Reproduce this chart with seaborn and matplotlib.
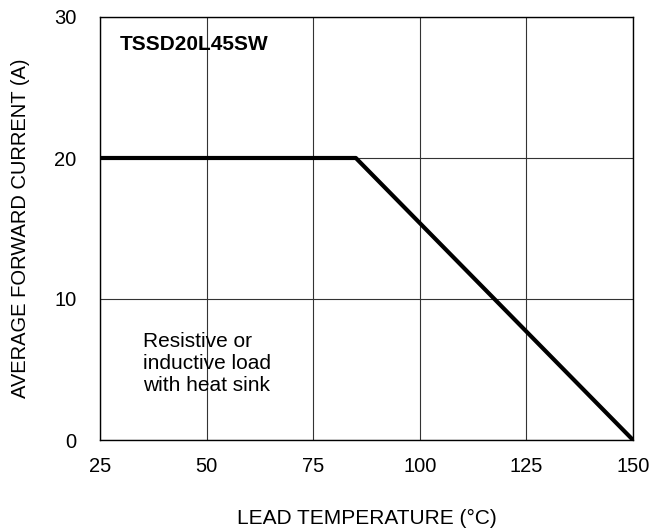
import matplotlib
matplotlib.use("Agg")
import matplotlib.pyplot as plt
import seaborn as sns
import pandas as pd

temperature = [25, 85, 150]
current = [20, 20, 0]
x_ticks = [25, 50, 75, 100, 125, 150]
y_ticks = [0, 10, 20, 30]

sns.set_theme(style="white")
plt.rcParams['font.family'] = ['Liberation Sans', 'DejaVu Sans']
plt.rcParams['text.color'] = 'black'
plt.rcParams['axes.labelcolor'] = 'black'

df = pd.DataFrame({"temp": temperature, "cur": current})

fig = plt.figure(figsize=(6.5, 5.31), dpi=100)
ax = fig.add_axes([100/650, 1-440/531, 533/650, 423/531])
sns.lineplot(data=df, x="temp", y="cur", ax=ax, color="black", linewidth=3.0,
             solid_capstyle="round")
ax.set_xlim(25, 150)
ax.set_ylim(0, 30)
ax.set_xticks(x_ticks)
ax.set_yticks(y_ticks)
ax.grid(True, color="#333333", linewidth=0.8)
for s in ax.spines.values():
    s.set_color("black")
    s.set_linewidth(1.0)
ax.tick_params(axis="both", length=0, labelsize=14.5, colors="black")
ax.tick_params(axis="x", pad=12)
ax.tick_params(axis="y", pad=17)
ax.set_xlabel("LEAD TEMPERATURE (°C)", fontsize=15, labelpad=24)
ax.set_ylabel("AVERAGE FORWARD CURRENT (A)", fontsize=14.5, labelpad=17)
ax.text(29.7, 28.08, "TSSD20L45SW", fontsize=15, fontweight="bold", va="center", ha="left")
ax.text(35.2, 5.4, "Resistive or\ninductive load\nwith heat sink", fontsize=15,
        ha="left", va="center", linespacing=1.2)
fig.savefig("out.png", dpi=100)
